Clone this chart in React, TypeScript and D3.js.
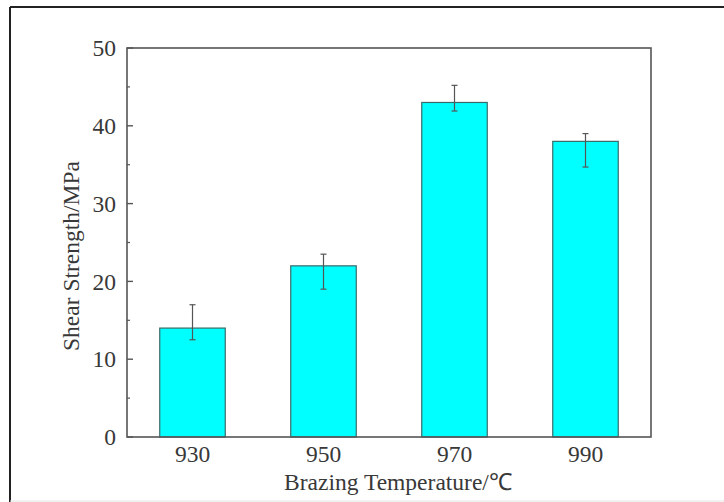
import React from "react";
import * as d3 from "d3";

const categories = ["930", "950", "970", "990"];
const values = [14, 22, 43, 38];
const errHigh = [17.0, 23.5, 45.2, 39.0];
const errLow = [12.5, 19.0, 41.9, 34.7];
const yTicks = [0, 10, 20, 30, 40, 50];
const yMinorTicks = [5, 15, 25, 35, 45];

const W = 724, H = 502;
const M = { left: 127, right: 651, top: 48, bottom: 437 };

export default function App() {
  const x = d3.scaleBand<string>().domain(categories).range([M.left, M.right]).paddingInner(0.5).paddingOuter(0.25);
  const y = d3.scaleLinear().domain([0, 50]).range([M.bottom, M.top]);
  const font = "'Liberation Serif', 'Times New Roman', serif";
  const txt = "#383838";
  const axis = "#555";
  const fs = 23.5;
  return (
    <svg width={W} height={H} style={{ position: "absolute", left: 0, top: 0, background: "#fff" }}>
      {/* outer frame */}
      <line x1={10} y1={7} x2={W} y2={7} stroke="#222" strokeWidth={2} />
      <line x1={10} y1={7} x2={10} y2={H} stroke="#222" strokeWidth={2} />
      <line x1={10} y1={H - 1} x2={W} y2={H - 1} stroke="#e4e4e4" strokeWidth={1} />
      {/* bars */}
      {categories.map((c, i) => (
        <rect key={c} x={x(c)} y={y(values[i])} width={x.bandwidth()} height={y(0) - y(values[i])}
          fill="#00FFFF" stroke="#3a6a6a" strokeWidth={1.2} />
      ))}
      {/* error bars */}
      {categories.map((c, i) => {
        const cx = (x(c) as number) + x.bandwidth() / 2;
        return (
          <g key={"e" + c} stroke="#555" strokeWidth={1.2}>
            <line x1={cx} x2={cx} y1={y(errHigh[i])} y2={y(errLow[i])} />
            <line x1={cx - 3} x2={cx + 3} y1={y(errHigh[i])} y2={y(errHigh[i])} />
            <line x1={cx - 3} x2={cx + 3} y1={y(errLow[i])} y2={y(errLow[i])} />
          </g>
        );
      })}
      {/* plot frame */}
      <rect x={M.left} y={M.top} width={M.right - M.left} height={M.bottom - M.top} fill="none" stroke={axis} strokeWidth={1.6} />
      {/* y ticks */}
      {yTicks.map((t) => (
        <g key={t}>
          <line x1={M.left} x2={M.left + 6} y1={y(t)} y2={y(t)} stroke={axis} strokeWidth={1.4} />
          <text x={M.left - 11} y={y(t)} dy="0.35em" textAnchor="end" fontFamily={font} fontSize={fs} fill={txt}>{t}</text>
        </g>
      ))}
      {yMinorTicks.map((t) => (
        <line key={"m" + t} x1={M.left} x2={M.left + 3} y1={y(t)} y2={y(t)} stroke={axis} strokeWidth={1.2} />
      ))}
      {/* x labels */}
      {categories.map((c) => (
        <text key={"x" + c} x={(x(c) as number) + x.bandwidth() / 2} y={462} textAnchor="middle" fontFamily={font} fontSize={fs} fill={txt}>{c}</text>
      ))}
      <text x={398} y={490} textAnchor="middle" fontFamily={font} fontSize={fs} fill={txt}>Brazing Temperature/℃</text>
      <text transform={`translate(79, 256) rotate(-90)`} textAnchor="middle" fontFamily={font} fontSize={fs} fill={txt}>Shear Strength/MPa</text>
    </svg>
  );
}
